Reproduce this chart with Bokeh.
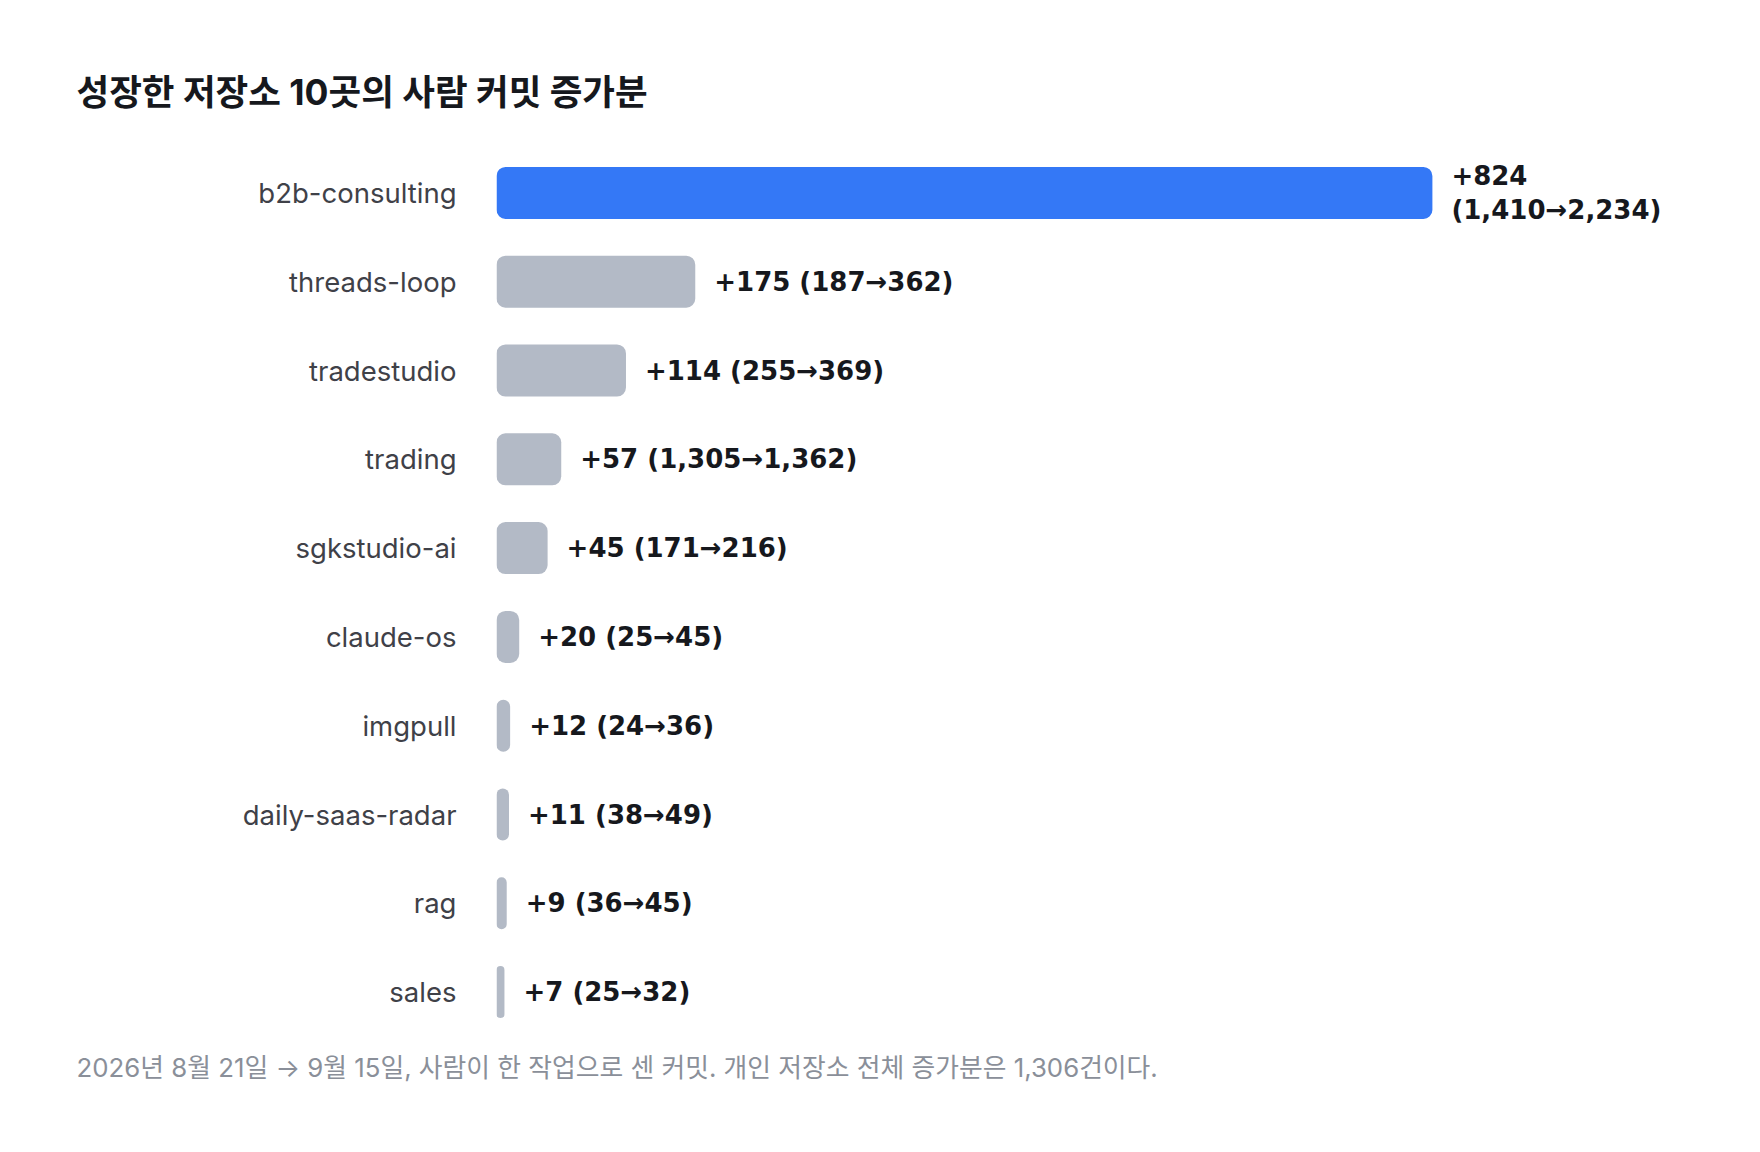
from bokeh.plotting import figure
from bokeh.models import Range1d, FactorRange, Title, ColumnDataSource
from bokeh.core.properties import value
from bokeh.embed import file_html
from bokeh.resources import INLINE

title_text = "성장한 저장소 10곳의 사람 커밋 증가분"
footer_text = "2026년 8월 21일 → 9월 15일, 사람이 한 작업으로 센 커밋. 개인 저장소 전체 증가분은 1,306건이다."
repos = ["b2b-consulting", "threads-loop", "tradestudio", "trading", "sgkstudio-ai",
         "claude-os", "imgpull", "daily-saas-radar", "rag", "sales"]
before = [1410, 187, 255, 1305, 171, 25, 24, 38, 36, 25]
after = [2234, 362, 369, 1362, 216, 45, 36, 49, 45, 32]

delta = [a - b for a, b in zip(after, before)]
top = max(delta)
labels = []
colors = []
for d, b, a in zip(delta, before, after):
    sep = "\n" if d == top else " "
    labels.append(f"+{d}{sep}({b:,}→{a:,})")
    colors.append("#3478f6" if d == top else "#b3bac6")

src = ColumnDataSource(dict(repo=repos, delta=delta, label=labels, color=colors))

FONT = "Inter, 'Noto Sans CJK KR', sans-serif"
VFONT = "'DejaVu Sans', Inter, sans-serif"

p = figure(width=1740, height=1130, output_backend="svg", toolbar_location=None,
           y_range=FactorRange(factors=list(reversed(repos))),
           x_range=Range1d(0, 1053),
           min_border_left=496, min_border_right=48, min_border_top=148, min_border_bottom=94)
p.outline_line_color = None
p.xgrid.visible = False
p.ygrid.visible = False
p.xaxis.visible = False
p.background_fill_color = "white"
p.border_fill_color = "white"

ax = p.yaxis[0]
ax.axis_line_color = None
ax.major_tick_line_color = None
ax.minor_tick_line_color = None
ax.major_tick_out = 0
ax.major_label_standoff = 40
ax.major_label_text_font = FONT
ax.major_label_text_font_size = "27.5px"
ax.major_label_text_color = "#3f4148"

p.hbar(y="repo", left=0, right="delta", height=0.586, color="color", source=src,
       line_color=None, border_radius=9)
p.text(x="delta", y="repo", text="label", source=src, x_offset=19,
       text_align="left", text_baseline="middle", text_font=value(VFONT),
       text_font_size="26px", text_font_style="bold", text_color="#16181d",
       text_line_height=1.15)

t = Title(text=title_text, align="left", offset=-420, text_font=FONT,
          text_font_size="35.5px", text_font_style="bold", text_color="#16181d",
          standoff=69)
p.add_layout(t, "above")
f = Title(text=footer_text, align="left", offset=-420, text_font=FONT,
          text_font_size="25.8px", text_font_style="normal", text_color="#8a8f99",
          standoff=26)
p.add_layout(f, "below")

open("out.html", "w").write(file_html(p, INLINE))
